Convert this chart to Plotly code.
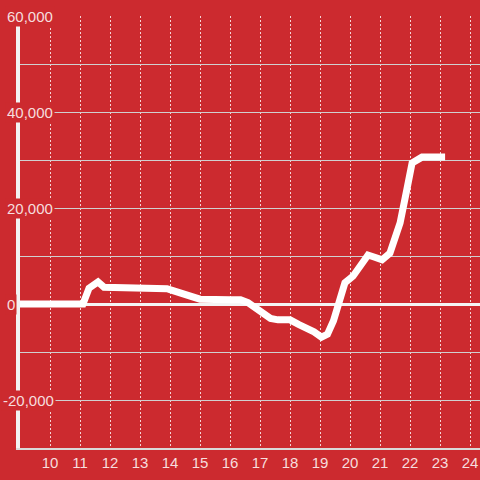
import plotly.graph_objects as go

hours = [9, 10, 11, 11.1, 11.3, 11.6, 11.8, 12, 13, 13.5, 13.9, 14.1, 14.35, 14.6, 15,
         16, 16.35, 16.6, 17, 17.35, 17.6, 18, 18.3, 18.6, 18.8, 19.05, 19.25, 19.45,
         19.6, 19.83, 20.1, 20.33, 20.6, 20.85, 21.07, 21.33, 21.67, 21.9, 22.07, 22.4, 23.17]
balance = [0, 0, 0, 0, 3300, 4600, 3500, 3500, 3500, 3400, 3200, 2800, 2200, 1700, 1000,
           900, 900, 300, -1700, -3000, -3300, -3300, -4300, -5000, -5800, -6900, -6300, -3500,
           -600, 4400, 5800, 7700, 10200, 9700, 9200, 10600, 16900, 24000, 29400, 30600, 30600]

x_ticks = list(range(10, 25))
y_labels = [60000, 40000, 20000, 0, -20000]

bg = "#cc2a2f"
txt = dict(family="Liberation Sans, Arial", size=15, color="rgba(255,255,255,0.85)")

fig = go.Figure(go.Scatter(
    x=hours,
    y=balance,
    mode="lines",
    line=dict(color="white", width=7),
    hoverinfo="skip",
))

for v in y_labels:
    fig.add_annotation(
        x=0, xref="paper", y=v, yref="y",
        text=f"{v:,}",
        showarrow=False,
        xanchor="left",
        xshift=-15 if v >= 0 else -19,
        bgcolor=bg, borderpad=1,
        font=txt,
    )

fig.update_layout(
    width=480, height=480,
    paper_bgcolor=bg, plot_bgcolor=bg,
    margin=dict(l=20, r=0, t=16, b=32, autoexpand=False),
    showlegend=False,
    font=txt,
    xaxis=dict(
        range=[9, 9 + 460 / 30], tickvals=x_ticks, automargin=False,
        showgrid=True, gridcolor="rgba(255,255,255,0.8)", griddash="2px,2px", gridwidth=1,
        showline=True, linecolor="#d9d9d9", linewidth=2,
        zeroline=False, ticks="", tickfont=txt,
    ),
    yaxis=dict(
        range=[-30000, 60000], dtick=10000, automargin=False,
        showticklabels=False,
        showgrid=True, gridcolor="#d0d0d0", gridwidth=1,
        showline=True, linecolor="#f2f2f2", linewidth=4,
        zeroline=True, zerolinecolor="#f4f4f4", zerolinewidth=3,
        ticks="",
    ),
)

fig.write_html("out.html", config={"displayModeBar": False},
               post_script="document.body.style.margin='0';")
